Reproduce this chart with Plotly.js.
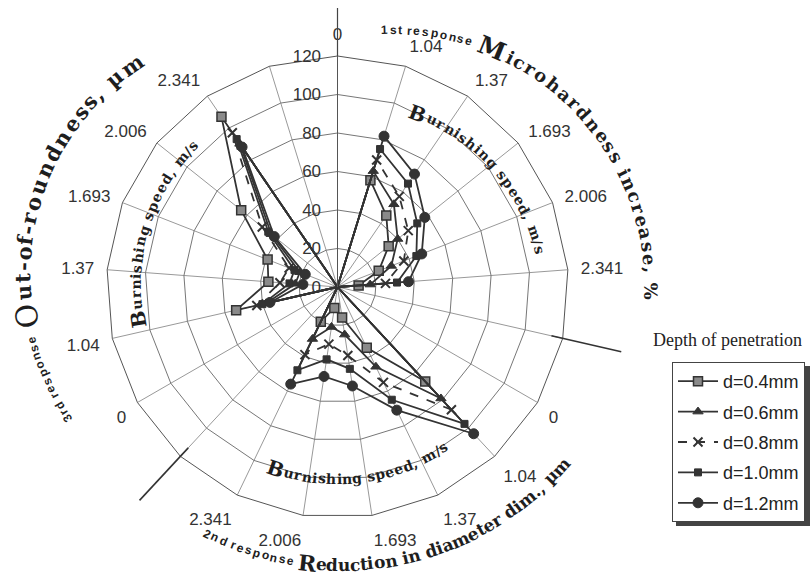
<!DOCTYPE html>
<html>
<head>
<meta charset="utf-8">
<script src="https://cdn.plot.ly/plotly-3.0.1.min.js"></script>
<style>
  html, body { margin: 0; padding: 0; background: #fff; }
  #chart { width: 811px; height: 585px; }
</style>
</head>
<body>
<div id="chart"></div>
<script>
// Burnishing speed, m/s (same speeds repeated for every response sector)
const speedLabels = ['0', '1.04', '1.37', '1.693', '2.006', '2.341'];
const sectorNames = ['R1', 'R2', 'R3'];
const depthLabels = ['d=0.4mm', 'd=0.6mm', 'd=0.8mm', 'd=1.0mm', 'd=1.2mm'];

// 1st response: microhardness increase, % (rows = depth, columns = speed)
const microhardness = [
  [0, 58, 45, 34, 23, 11],
  [0, 63, 52, 40, 30, 17],
  [0, 69, 57, 47, 37, 25],
  [0, 75, 65, 53, 44, 31],
  [0, 82, 71, 58, 47, 37]
];
// 2nd response: reduction in diameter dim., µm
const diameterReduction = [
  [0, 67, 35, 16, 11, 20],
  [0, 79, 46, 25, 21, 30],
  [0, 87, 55, 36, 30, 39],
  [0, 97, 65, 43, 38, 48],
  [0, 104, 71, 52, 47, 56]
];
// 3rd response: out-of-roundness, µm
const outOfRoundness = [
  [0, 54, 36, 39, 64, 107],
  [0, 38, 22, 21, 44, 90],
  [0, 43, 30, 27, 50, 97],
  [0, 40, 25, 24, 46, 93],
  [0, 36, 18, 18, 42, 88]
];
const radialTicks = [0, 20, 40, 60, 80, 100, 120];

// ---- geometry of the figure ----
const W = 811, H = 585;
const CX = 337.5, CY = 287, R = 231;
const NCAT = 21;

// category slots: six speeds + one empty divider per response
const categories = [];
const tickText = [];
sectorNames.forEach(s => {
  speedLabels.forEach(v => { categories.push(s + ':' + v); tickText.push(v); });
  categories.push(s + ':gap'); tickText.push('');
});

const responseSets = [microhardness, diameterReduction, outOfRoundness];
const markerStyles = [
  { symbol: 'square', size: 9, color: '#8a8a8a', line: { color: '#333', width: 1.5 } },
  { symbol: 'triangle-up', size: 9, color: '#333', line: { color: '#333', width: 1 } },
  { symbol: 'x-thin-open', size: 9, color: '#333', line: { color: '#333', width: 2 } },
  { symbol: 'square', size: 7, color: '#333', line: { color: '#333', width: 1 } },
  { symbol: 'circle', size: 10, color: '#333', line: { color: '#333', width: 1 } }
];
const dashes = ['solid', 'solid', 'dash', 'solid', 'solid'];

const traces = depthLabels.map((name, d) => {
  const r = [];
  responseSets.forEach(set => { set[d].forEach(v => r.push(v)); r.push(null); });
  return {
    type: 'scatterpolar',
    name: name,
    legendgroup: name,
    theta: categories.concat([categories[0]]),
    r: r.concat([r[0]]),
    mode: 'lines+markers',
    connectgaps: true,
    line: { color: '#333', width: 1.8, dash: dashes[d] },
    marker: markerStyles[d],
    cliponaxis: false
  };
});

// ---- curved titles, one annotation per character ----
const annotations = [];
const ctx = document.createElement('canvas').getContext('2d');
function arcText(parts, o) {
  const chars = [];
  parts.forEach(p => {
    for (const ch of p.text) {
      ctx.font = (p.weight || 'normal') + ' ' + p.size + 'px ' + p.family;
      chars.push({ ch, w: ctx.measureText(ch).width, p });
    }
  });
  let s = 0;
  const centers = chars.map(c => { const m = s + c.w / 2; s += c.w; return m; });
  const span = centers[centers.length - 1] - centers[0];
  const k = (o.a1 - o.a0) / span;
  chars.forEach((c, i) => {
    if (c.ch === ' ') return;
    const th = o.a0 + k * (centers[i] - centers[0]);
    const rad = th * Math.PI / 180;
    const x = o.cx + o.r * Math.sin(rad);
    const y = o.cy - o.r * Math.cos(rad);
    annotations.push({
      xref: 'paper', yref: 'paper', x: x / W, y: 1 - y / H,
      xanchor: 'center', yanchor: 'middle', showarrow: false,
      text: c.ch, textangle: o.a1 > o.a0 ? th : th - 180,
      font: { family: c.p.family, size: c.p.size, color: c.p.color || '#1e1e1e', weight: c.p.weight === 'bold' ? 700 : 400 }
    });
  });
}
const SERIF = 'DejaVu Serif';
const SANS = 'Liberation Sans';

// top right: 1st response
arcText([{ text: '1st response', size: 12, family: SANS, weight: 'bold' }], { cx: 393, cy: 287, r: 257, a0: -1.8, a1: 17.2 });
arcText([{ text: 'M', size: 25, family: SERIF, weight: 'bold' }, { text: 'icrohardness increase, %', size: 18, family: SERIF, weight: 'bold' }],
  { cx: 393, cy: 287, r: 258, a0: 22.5, a1: 91 });
// left: 3rd response
arcText([{ text: '3rd response', size: 12, family: SANS, weight: 'bold' }], { cx: 278, cy: 274, r: 255, a0: 235.6, a1: 255 });
arcText([{ text: 'O', size: 30, family: SERIF }, { text: 'ut-of-roundness, µm', size: 21, family: SERIF, weight: 'bold' }],
  { cx: 278, cy: 274, r: 255, a0: 260.5, a1: 325 });
// bottom: 2nd response
arcText([{ text: '2nd response', size: 12, family: SANS, weight: 'bold' }], { cx: 340, cy: 268, r: 297, a0: 206.6, a1: 189.6 });
arcText([{ text: 'R', size: 22, family: SERIF, weight: 'bold' }, { text: 'eduction in diameter dim., µm', size: 17, family: SERIF, weight: 'bold' }],
  { cx: 340, cy: 268, r: 297, a0: 186.3, a1: 132 });
// speed labels inside each sector
const speedTitle = [{ text: 'B', size: 20, family: SERIF, weight: 'bold' }, { text: 'urnishing speed, m/s', size: 14, family: SERIF, weight: 'bold' }];
arcText(speedTitle, { cx: 349, cy: 297, r: 196, a0: 20.6, a1: 76.2 });
arcText(speedTitle, { cx: CX, cy: CY, r: 202, a0: 260.7, a1: 314.5 });
arcText(speedTitle, { cx: CX, cy: CY, r: 192, a0: 198.8, a1: 146.6 });

annotations.push({
  xref: 'paper', yref: 'paper', x: 727 / W, y: 1 - 340 / H, xanchor: 'center', yanchor: 'middle',
  showarrow: false, text: 'Depth of penetration',
  font: { family: 'Liberation Serif', size: 18, color: '#222' }
});

// ---- dividers between the response sectors and the top axis extension ----
function pt(thetaDeg, rad) {
  const a = thetaDeg * Math.PI / 180;
  return [(CX + rad * Math.sin(a)) / W, 1 - (CY - rad * Math.cos(a)) / H];
}
const shapes = [];
[6, 13].forEach(idx => {
  const th = idx * 360 / NCAT;
  const p0 = pt(th, R * 0.95), p1 = pt(th, R * 1.26);
  shapes.push({ type: 'line', xref: 'paper', yref: 'paper', x0: p0[0], y0: p0[1], x1: p1[0], y1: p1[1], line: { color: '#333', width: 1.6 } });
});
{
  const p0 = pt(0, R), p1 = pt(0, CY - 8);
  shapes.push({ type: 'line', xref: 'paper', yref: 'paper', x0: p0[0], y0: p0[1], x1: p1[0], y1: p1[1], line: { color: '#444', width: 1.2 } });
}
// legend drop shadow
shapes.push({ type: 'rect', layer: 'below', xref: 'paper', yref: 'paper', x0: 676 / W, x1: 810 / W, y0: 1 - 526 / H, y1: 1 - 366 / H, line: { width: 0 }, fillcolor: '#444' });

const layout = {
  width: W, height: H,
  margin: { l: 0, r: 0, t: 0, b: 0 },
  paper_bgcolor: '#fff',
  showlegend: true,
  legend: {
    x: 672 / W, y: 1 - 362 / H, xanchor: 'left', yanchor: 'top',
    bgcolor: '#fff', bordercolor: '#444', borderwidth: 1,
    font: { family: SANS, size: 18, color: '#222' },
    itemwidth: 40, tracegroupgap: 4, traceorder: 'grouped'
  },
  polar: {
    domain: { x: [(CX - R) / W, (CX + R) / W], y: [1 - (CY + R) / H, 1 - (CY - R) / H] },
    gridshape: 'linear',
    bgcolor: 'rgba(0,0,0,0)',
    angularaxis: {
      type: 'category', categoryorder: 'array', categoryarray: categories,
      rotation: 90, direction: 'clockwise',
      tickmode: 'array', tickvals: categories, ticktext: tickText,
      tickfont: { family: SANS, size: 17, color: '#333' },
      ticks: 'outside', ticklen: 9, tickcolor: 'rgba(0,0,0,0)',
      showline: true, linecolor: '#555', linewidth: 1,
      showgrid: true, gridcolor: '#999', gridwidth: 1
    },
    radialaxis: {
      range: [0, 120], angle: 90, tickmode: 'array', tickvals: radialTicks,
      side: 'counterclockwise', tickangle: 90,
      tickfont: { family: SANS, size: 17, color: '#333' },
      showline: true, linecolor: '#555', linewidth: 1,
      showgrid: true, gridcolor: '#777', gridwidth: 1,
      ticks: 'outside', ticklen: 10, tickcolor: 'rgba(0,0,0,0)'
    }
  },
  annotations: annotations,
  shapes: shapes
};

Plotly.newPlot('chart', traces, layout, { staticPlot: true });
</script>
</body>
</html>
